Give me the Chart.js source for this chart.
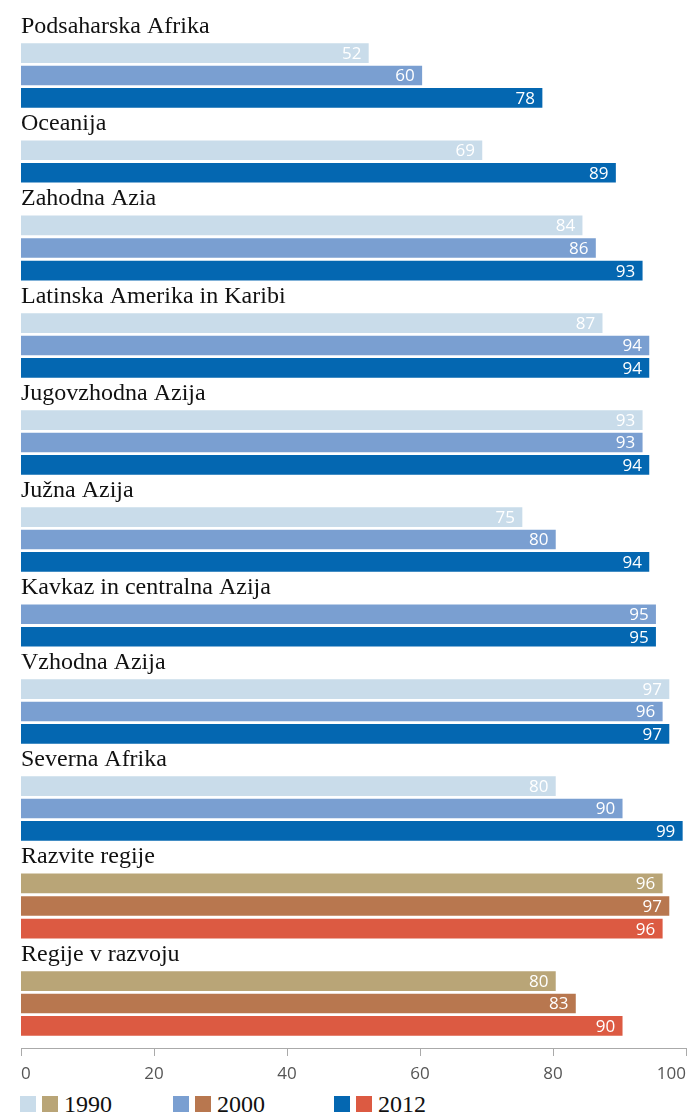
<!DOCTYPE html>
<html><head><meta charset="utf-8">
<script src="https://cdn.jsdelivr.net/npm/chart.js@4/dist/chart.umd.min.js"></script>
<style>
html,body{margin:0;padding:0;background:#fff;}
body{width:694px;height:1115px;position:relative;overflow:hidden;}
.box{position:absolute;left:0;width:694px;}
#legend{position:absolute;left:0;top:1090px;width:694px;height:28px;font-family:'Liberation Serif',serif;font-size:24px;color:#111;}
.sw{position:absolute;width:16px;height:16px;top:6px;}
.lt{position:absolute;top:0;line-height:28px;}
</style></head><body>
<div id="legend"></div>
<script>
// ---- data ----
const regions = ['Podsaharska Afrika','Oceanija','Zahodna Azia','Latinska Amerika in Karibi','Jugovzhodna Azija','Južna Azija','Kavkaz in centralna Azija','Vzhodna Azija','Severna Afrika','Razvite regije','Regije v razvoju'];
const years = ['1990','2000','2012'];
const v1990 = [52, 69, 84, 87, 93, 75, null, 97, 80, 96, 80];
const v2000 = [60, null, 86, 94, 93, 80, 95, 96, 90, 97, 83];
const v2012 = [78, 89, 93, 94, 94, 94, 95, 97, 99, 96, 90];
const regionPalette = ['blue','blue','blue','blue','blue','blue','blue','blue','blue','brown','brown'];
const xTicks = [0, 20, 40, 60, 80, 100];

// ---- styles ----
const palettes = {
  blue:  ['#C9DCEA', '#7A9FD1', '#0467B1'],
  brown: ['#B9A577', '#B8774F', '#DC5A42']
};
const TITLE_H = 30, ROW_H = 22.4, TOP0 = 12.3, BAR_T = 19;
const AXIS_Y = 1048, AXIS_BOX_H = 100, AXIS_PART_H = 38;
const PAD = {left: 21, right: 5, top: 0, bottom: 0};

const valueLabels = {
  id: 'valueLabels',
  afterDatasetsDraw(chart) {
    const ctx = chart.ctx;
    ctx.save();
    ctx.font = '17px "Open Sans"';
    ctx.fillStyle = '#ffffff';
    ctx.textAlign = 'right';
    ctx.textBaseline = 'middle';
    const ds = chart.data.datasets[0];
    chart.getDatasetMeta(0).data.forEach((el, i) => {
      const v = ds.data[i];
      if (v == null) return;
      ctx.fillText(String(v), el.x - 7, el.y + 1);
    });
    ctx.restore();
  }
};

let cum = TOP0;
regions.forEach((name, r) => {
  const vals = [v1990[r], v2000[r], v2012[r]];
  const labels = [], data = [], colors = [];
  vals.forEach((v, k) => {
    if (v != null) { labels.push(years[k]); data.push(v); colors.push(palettes[regionPalette[r]][k]); }
  });
  const h = TITLE_H + labels.length * ROW_H;
  const top = Math.round(cum), bottom = Math.round(cum + h);
  cum += h;
  const div = document.createElement('div');
  div.className = 'box';
  div.style.top = top + 'px';
  div.style.height = (bottom - top) + 'px';
  const c = document.createElement('canvas');
  div.appendChild(c);
  document.body.appendChild(div);
  new Chart(c, {
    type: 'bar',
    data: { labels, datasets: [{ data, backgroundColor: colors, barThickness: BAR_T, borderWidth: 0 }] },
    options: {
      indexAxis: 'y', responsive: true, maintainAspectRatio: false, animation: false,
      layout: { padding: PAD },
      plugins: {
        legend: { display: false }, tooltip: { enabled: false },
        title: { display: true, text: name, align: 'start', color: '#111',
          font: { family: '"Liberation Serif"', size: 24, weight: 'normal', lineHeight: 1.1 },
          padding: { top: 1.6, bottom: 2 } }
      },
      scales: { x: { display: false, min: 0, max: 100 }, y: { display: false } }
    },
    plugins: [valueLabels]
  });
});

// axis (transparent overlay chart sharing the same x range)
(function(){
  const div = document.createElement('div');
  div.className = 'box';
  div.style.top = (AXIS_Y - (AXIS_BOX_H - AXIS_PART_H)) + 'px';
  div.style.height = AXIS_BOX_H + 'px';
  div.style.pointerEvents = 'none';
  const c = document.createElement('canvas');
  div.appendChild(c);
  document.body.appendChild(div);
  new Chart(c, {
    type: 'bar',
    data: { labels: [], datasets: [] },
    options: {
      indexAxis: 'y', responsive: true, maintainAspectRatio: false, animation: false,
      layout: { padding: PAD },
      plugins: { legend: { display: false }, tooltip: { enabled: false } },
      scales: {
        x: { min: 0, max: 100,
          afterBuildTicks: s => { s.ticks = xTicks.map(v => ({ value: v })); },
          afterFit: s => { s.height = AXIS_PART_H; },
          ticks: { align: 'inner', color: '#555', padding: 8, maxRotation: 0, autoSkip: false,
            font: { family: '"Open Sans"', size: 17 } },
          grid: { drawOnChartArea: false, tickLength: 8, color: '#aaa' },
          border: { color: '#aaa' } },
        y: { display: false }
      }
    }
  });
})();

// legend
(function(){
  const legendX = [20, 173, 334];
  const lg = document.getElementById('legend');
  years.forEach((y, k) => {
    const x = legendX[k];
    ['blue','brown'].forEach((p, j) => {
      const s = document.createElement('span');
      s.className = 'sw';
      s.style.left = (x + j * 22) + 'px';
      s.style.background = palettes[p][k];
      lg.appendChild(s);
    });
    const t = document.createElement('span');
    t.className = 'lt';
    t.style.left = (x + 44) + 'px';
    t.textContent = y;
    lg.appendChild(t);
  });
})();
</script>
</body></html>
